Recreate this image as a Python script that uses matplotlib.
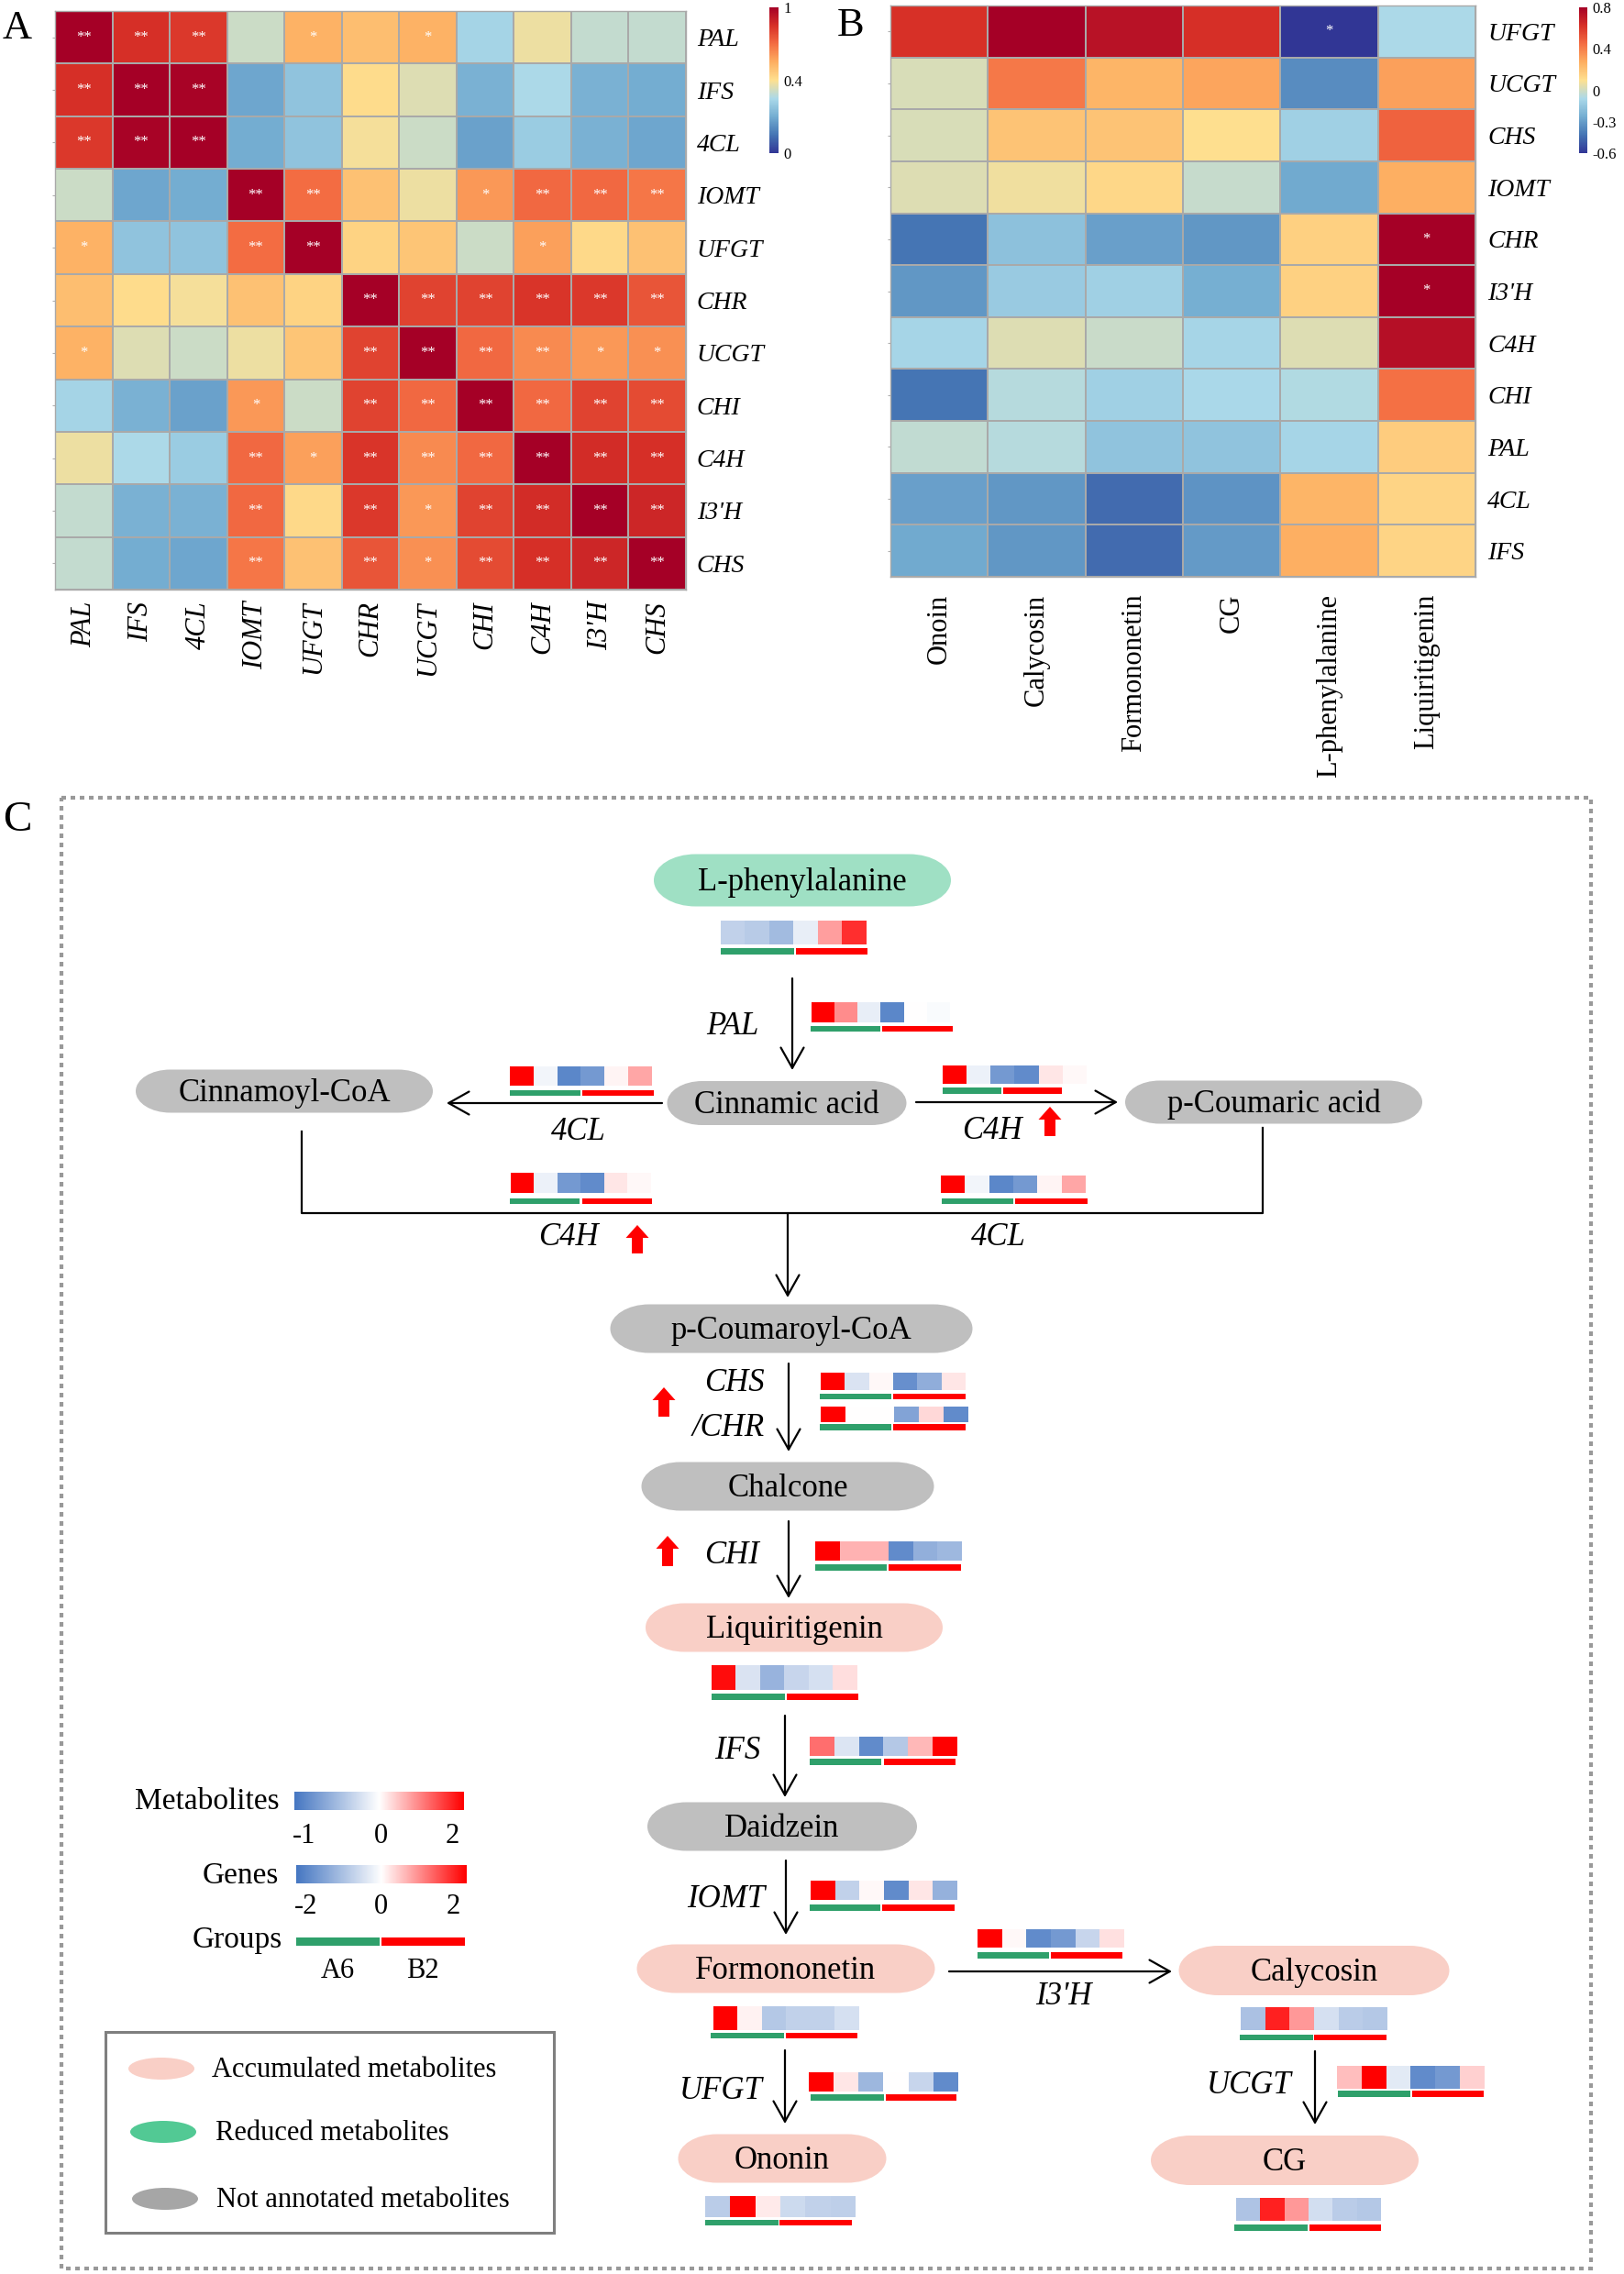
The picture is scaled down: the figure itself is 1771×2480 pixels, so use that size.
import numpy as np
import matplotlib
matplotlib.use("Agg")
import matplotlib.pyplot as plt
from matplotlib.colors import LinearSegmentedColormap, TwoSlopeNorm, Normalize
from matplotlib.patches import PathPatch, Ellipse, Rectangle, FancyArrow
from matplotlib.path import Path

plt.rcParams['font.family'] = ['Liberation Serif', 'DejaVu Serif']

# ---------------- data: panel A (gene-gene correlation) ----------------
genes_A = ["PAL", "IFS", "4CL", "IOMT", "UFGT", "CHR", "UCGT", "CHI", "C4H", "I3'H", "CHS"]
corr_A = [
    [1.00, 0.85, 0.83, 0.34, 0.54, 0.50, 0.54, 0.29, 0.38, 0.33, 0.33],
    [0.85, 1.00, 0.99, 0.19, 0.25, 0.41, 0.36, 0.21, 0.30, 0.21, 0.20],
    [0.83, 0.99, 1.00, 0.20, 0.25, 0.39, 0.34, 0.18, 0.27, 0.21, 0.19],
    [0.34, 0.19, 0.20, 1.00, 0.70, 0.49, 0.38, 0.60, 0.71, 0.71, 0.68],
    [0.54, 0.25, 0.25, 0.70, 1.00, 0.44, 0.48, 0.34, 0.58, 0.42, 0.49],
    [0.50, 0.41, 0.39, 0.49, 0.44, 1.00, 0.80, 0.80, 0.84, 0.83, 0.76],
    [0.54, 0.36, 0.34, 0.38, 0.48, 0.80, 1.00, 0.71, 0.63, 0.60, 0.62],
    [0.29, 0.21, 0.18, 0.60, 0.34, 0.80, 0.71, 1.00, 0.71, 0.80, 0.78],
    [0.38, 0.30, 0.27, 0.71, 0.58, 0.84, 0.63, 0.71, 1.00, 0.86, 0.85],
    [0.33, 0.21, 0.21, 0.71, 0.42, 0.83, 0.60, 0.80, 0.86, 1.00, 0.88],
    [0.33, 0.20, 0.19, 0.68, 0.49, 0.76, 0.62, 0.78, 0.85, 0.88, 1.00],
]
sig_A = [
    ["**", "**", "**", "", "*", "", "*", "", "", "", ""],
    ["**", "**", "**", "", "", "", "", "", "", "", ""],
    ["**", "**", "**", "", "", "", "", "", "", "", ""],
    ["", "", "", "**", "**", "", "", "*", "**", "**", "**"],
    ["*", "", "", "**", "**", "", "", "", "*", "", ""],
    ["", "", "", "", "", "**", "**", "**", "**", "**", "**"],
    ["*", "", "", "", "", "**", "**", "**", "**", "*", "*"],
    ["", "", "", "*", "", "**", "**", "**", "**", "**", "**"],
    ["", "", "", "**", "*", "**", "**", "**", "**", "**", "**"],
    ["", "", "", "**", "", "**", "*", "**", "**", "**", "**"],
    ["", "", "", "**", "", "**", "*", "**", "**", "**", "**"],
]
cbar_A_ticks = [0, 0.4, 1]

# ---------------- data: panel B (gene-metabolite correlation) ----------------
genes_B = ["UFGT", "UCGT", "CHS", "IOMT", "CHR", "I3'H", "C4H", "CHI", "PAL", "4CL", "IFS"]
metabolites_B = ["Onoin", "Calycosin", "Formononetin", "CG", "L-phenylalanine", "Liquiritigenin"]
corr_B = [
    [0.62, 0.80, 0.73, 0.63, -0.60, -0.075],
    [0.02, 0.42, 0.25, 0.30, -0.35, 0.31],
    [0.02, 0.20, 0.20, 0.10, -0.11, 0.48],
    [0.03, 0.07, 0.13, -0.02, -0.26, 0.27],
    [-0.42, -0.17, -0.29, -0.32, 0.16, 0.80],
    [-0.32, -0.13, -0.11, -0.24, 0.15, 0.80],
    [-0.09, 0.03, -0.01, -0.09, 0.03, 0.74],
    [-0.42, -0.05, -0.11, -0.08, -0.06, 0.44],
    [-0.03, -0.05, -0.16, -0.16, -0.09, 0.17],
    [-0.29, -0.32, -0.45, -0.33, 0.25, 0.14],
    [-0.26, -0.32, -0.45, -0.31, 0.27, 0.14],
]
sig_B = [
    ["", "", "", "", "*", ""],
    ["", "", "", "", "", ""],
    ["", "", "", "", "", ""],
    ["", "", "", "", "", ""],
    ["", "", "", "", "", "*"],
    ["", "", "", "", "", "*"],
    ["", "", "", "", "", ""],
    ["", "", "", "", "", ""],
    ["", "", "", "", "", ""],
    ["", "", "", "", "", ""],
    ["", "", "", "", "", ""],
]
cbar_B_ticks = [-0.6, -0.3, 0, 0.4, 0.8]

# ---------------- data: panel C mini heatmaps (A6 x3, B2 x3) ----------------
# metabolites (scale -1..2)
lphe_met = [-0.33, -0.38, -0.50, -0.12, 0.76, 1.64]
liq_met = [1.90, -0.20, -0.55, -0.30, -0.22, 0.26]
formo_met = [2.00, 0.10, -0.40, -0.33, -0.33, -0.22]
ononin_met = [-0.37, 2.00, 0.16, -0.27, -0.33, -0.35]
calycosin_met = [-0.45, 1.74, 0.80, -0.22, -0.37, -0.40]
cg_met = [-0.43, 1.74, 0.80, -0.24, -0.37, -0.40]
# genes (scale -2..2)
pal_gene = [2.00, 0.90, -0.24, -1.76, 0.00, -0.06]
cl4_gene = [2.00, -0.14, -1.76, -1.50, 0.08, 0.70]
c4h_gene = [2.00, -0.20, -1.50, -1.70, 0.20, 0.06]
chs_gene = [2.00, -0.40, 0.06, -1.64, -1.20, 0.20]
chr_gene = [2.00, 0.00, 0.00, -1.34, 0.30, -1.70]
chi_gene = [2.00, 0.60, 0.60, -1.70, -1.16, -1.04]
ifs_gene = [1.14, -0.36, -1.70, -0.80, 0.56, 2.00]
iomt_gene = [2.00, -0.66, 0.06, -1.70, 0.20, -1.14]
i3h_gene = [2.00, 0.06, -1.70, -1.50, -0.60, 0.24]
ufgt_gene = [2.00, 0.20, -1.06, 0.00, -0.60, -1.70]
ucgt_gene = [0.50, 2.00, -0.30, -1.70, -1.50, 0.36]

met_range = (-1, 0, 2)
gene_range = (-2, 0, 2)

# ---------------- figure ----------------
W, H = 1771, 2480
fig = plt.figure(figsize=(W / 100, H / 100), dpi=100)


def fax(x0, y0, x1, y1):
    return [x0 / W, 1 - y1 / H, (x1 - x0) / W, (y1 - y0) / H]


heat_cmap = LinearSegmentedColormap.from_list(
    "rdylbu_m", ["#313695", "#4575b4", "#74add1", "#abd9e9", "#fee090",
                 "#fdae61", "#f46d43", "#d73027", "#a50026"])
strip_cmap = LinearSegmentedColormap.from_list("bwr_m", ["#4677c2", "#ffffff", "#ff0000"])
GREEN = "#2fa06b"
RED = "#ff0000"
GRID = "#a9a9a9"

# overlay axes in pixel coordinates for panel C
axc = fig.add_axes([0, 0, 1, 1])
axc.set_axis_off()


def heatmap(ax, data, norm, rows, cols, sig, col_italic, col_size, row_size, col_pad, row_pad):
    arr = np.array(data)
    m = ax.pcolormesh(arr, cmap=heat_cmap, norm=norm, edgecolors=GRID, linewidth=1.2)
    nr, nc = arr.shape
    ax.set_xlim(0, nc)
    ax.set_ylim(nr, 0)
    ax.set_xticks(np.arange(nc) + 0.5)
    ax.set_xticklabels(cols, rotation=90, fontsize=col_size,
                       fontstyle="italic" if col_italic else "normal")
    ax.set_yticks(np.arange(nr) + 0.5)
    ax.set_yticklabels(rows, fontsize=row_size, fontstyle="italic")
    ax.tick_params(axis="x", length=0, pad=col_pad)
    ax.tick_params(axis="y", left=True, right=False, labelleft=False, labelright=True,
                   length=2.5, width=0.8, color="#b0b0b0", pad=row_pad)
    for s in ax.spines.values():
        s.set_color(GRID)
        s.set_linewidth(1)
    for i in range(nr):
        for j in range(nc):
            if sig[i][j]:
                ax.text(j + 0.5, i + 0.5, sig[i][j], color="white", fontsize=12,
                        ha="center", va="center")
    return m


# ---- panel A ----
axA = fig.add_axes(fax(60, 12, 748, 643))
mA = heatmap(axA, corr_A, TwoSlopeNorm(vmin=0, vcenter=0.4, vmax=1), genes_A, genes_A,
             sig_A, True, 22, 20, 9, 6)
caxA = fig.add_axes(fax(839, 8, 849, 167))
cbA = fig.colorbar(mA, cax=caxA)
cbA.set_ticks(cbar_A_ticks)
cbA.set_ticklabels([f"{t:g}" for t in cbar_A_ticks])
cbA.outline.set_visible(False)
caxA.tick_params(length=0, labelsize=12, pad=4)

# ---- panel B ----
axB = fig.add_axes(fax(971, 6, 1609, 629))
mB = heatmap(axB, corr_B, Normalize(vmin=-0.6, vmax=0.8), genes_B, metabolites_B,
             sig_B, False, 22, 20, 13.5, 7)
caxB = fig.add_axes(fax(1722, 8, 1731, 167))
cbB = fig.colorbar(mB, cax=caxB)
cbB.set_ticks(cbar_B_ticks)
cbB.set_ticklabels([f"{t:g}" for t in cbar_B_ticks])
cbB.outline.set_visible(False)
caxB.tick_params(length=0, labelsize=12, pad=4)


# ---------------- panel C ----------------
def ptext(x, y, s, size, italic=False, ha="center", color="k"):
    px = size * 100 / 72
    axc.text(x, y + 0.33 * px, s, fontsize=size, ha=ha, va="baseline", color=color,
             fontstyle="italic" if italic else "normal", zorder=5)


def pill(cx, cy, w, h, color):
    ry = h / 2
    rx = min(1.6 * ry, w / 2)
    k = 0.5523
    x0, x1, y0, y1 = cx - w / 2, cx + w / 2, cy - h / 2, cy + h / 2
    verts = [
        (x0 + rx, y0), (x1 - rx, y0),
        (x1 - rx + k * rx, y0), (x1, cy - k * ry), (x1, cy),
        (x1, cy + k * ry), (x1 - rx + k * rx, y1), (x1 - rx, y1),
        (x0 + rx, y1),
        (x0 + rx - k * rx, y1), (x0, cy + k * ry), (x0, cy),
        (x0, cy - k * ry), (x0 + rx - k * rx, y0), (x0 + rx, y0),
        (x0 + rx, y0),
    ]
    codes = [Path.MOVETO, Path.LINETO,
             Path.CURVE4, Path.CURVE4, Path.CURVE4,
             Path.CURVE4, Path.CURVE4, Path.CURVE4,
             Path.LINETO,
             Path.CURVE4, Path.CURVE4, Path.CURVE4,
             Path.CURVE4, Path.CURVE4, Path.CURVE4,
             Path.CLOSEPOLY]
    axc.add_patch(PathPatch(Path(verts, codes), facecolor=color, edgecolor="none", zorder=2))


# panel letters
ptext(19, 27, "A", 32)
ptext(928, 24, "B", 32)
ptext(19, 890, "C", 34)

# dotted frame
axc.add_patch(Rectangle((67, 870), 1735 - 67, 2474 - 870, fill=False, edgecolor="#999999",
                        lw=3, linestyle=(0, (1.2, 1.2)), zorder=1))

MINT = "#9fe0c4"
PINK = "#f9cfc6"
GRAY = "#bfbfbf"
nodes = [
    ("L-phenylalanine", 875, 960, 324, 57, MINT),
    ("Cinnamic acid", 858, 1203, 261, 48, GRAY),
    ("Cinnamoyl-CoA", 310, 1190, 324, 47, GRAY),
    ("p-Coumaric acid", 1389, 1202, 324, 47, GRAY),
    ("p-Coumaroyl-CoA", 863, 1449, 395, 53, GRAY),
    ("Chalcone", 859, 1621, 319, 53, GRAY),
    ("Liquiritigenin", 866, 1775, 324, 53, PINK),
    ("Daidzein", 853, 1992, 294, 53, GRAY),
    ("Formononetin", 857, 2147, 325, 53, PINK),
    ("Calycosin", 1433, 2149, 295, 54, PINK),
    ("Ononin", 853, 2354, 227, 53, PINK),
    ("CG", 1401, 2356, 292, 54, PINK),
]
for name, cx, cy, w, h, col in nodes:
    pill(cx, cy, w, h, col)
    ptext(cx, cy, name, 25)


def arrow(x0, y0, x1, y1):
    axc.annotate("", xy=(x1, y1), xytext=(x0, y0),
                 arrowprops=dict(arrowstyle="->,head_length=1.6,head_width=0.9", lw=1.6,
                                 color="k", shrinkA=0, shrinkB=0, mutation_scale=10),
                 zorder=3)


arrow(864, 1067, 864, 1167)      # PAL
arrow(722, 1203, 487, 1203)      # 4CL
arrow(999, 1202, 1219, 1202)     # C4H
axc.plot([329, 329, 1377, 1377], [1234, 1323, 1323, 1230], color="k", lw=1.6, zorder=3)
arrow(859, 1323, 859, 1415)
arrow(860, 1487, 860, 1583)      # CHS/CHR
arrow(860, 1659, 860, 1743)      # CHI
arrow(856, 1871, 856, 1960)      # IFS
arrow(857, 2029, 857, 2110)      # IOMT
arrow(1035, 2150, 1278, 2150)    # I3'H
arrow(856, 2236, 856, 2316)      # UFGT
arrow(1434, 2237, 1434, 2317)    # UCGT

# gene labels
ptext(799, 1117, "PAL", 25, True)
ptext(631, 1232, "4CL", 25, True)
ptext(1082, 1231, "C4H", 25, True)
ptext(620, 1347, "C4H", 25, True)
ptext(1089, 1347, "4CL", 25, True)
ptext(834, 1506, "CHS", 25, True, ha="right")
ptext(834, 1555, "/CHR", 25, True, ha="right")
ptext(798, 1694, "CHI", 25, True)
ptext(804, 1907, "IFS", 25, True)
ptext(834, 2069, "IOMT", 25, True, ha="right")
ptext(832, 2278, "UFGT", 25, True, ha="right")
ptext(1160, 2175, "I3'H", 25, True)
ptext(1362, 2272, "UCGT", 25, True)

# red up-regulation arrows
for x, yb, yt in [(1145, 1239, 1207), (695, 1367, 1336), (724, 1545, 1513), (728, 1708, 1675)]:
    axc.add_patch(FancyArrow(x, yb, 0, yt - yb, width=12, head_width=25, head_length=14,
                             length_includes_head=True, color=RED, lw=0, zorder=3))

met_norm = TwoSlopeNorm(vmin=met_range[0], vcenter=met_range[1], vmax=met_range[2])
gene_norm = Normalize(vmin=gene_range[0], vmax=gene_range[2])

strips = [
    # values, norm, strip box (x0,x1,y0,y1), group bars (gx0,gx1,rx0,rx1,by0,by1)
    (lphe_met, met_norm, (786, 945, 1004, 1030), (786, 866, 868, 946, 1034, 1041)),
    (pal_gene, gene_norm, (885, 1036, 1093, 1115), (884, 960, 962, 1039, 1119, 1125)),
    (cl4_gene, gene_norm, (556, 711, 1163, 1184), (556, 633, 635, 713, 1189, 1195)),
    (c4h_gene, gene_norm, (1028, 1185, 1162, 1182), (1028, 1092, 1094, 1158, 1186, 1193)),
    (c4h_gene, gene_norm, (557, 710, 1279, 1301), (556, 632, 635, 711, 1307, 1313)),
    (cl4_gene, gene_norm, (1026, 1184, 1282, 1301), (1027, 1105, 1107, 1186, 1307, 1313)),
    (chs_gene, gene_norm, (895, 1053, 1497, 1516), (894, 972, 974, 1053, 1520, 1526)),
    (chr_gene, gene_norm, (895, 1056, 1534, 1551), (894, 972, 974, 1053, 1553, 1560)),
    (chi_gene, gene_norm, (889, 1049, 1681, 1702), (889, 967, 969, 1048, 1706, 1713)),
    (liq_met, met_norm, (776, 935, 1816, 1843), (776, 856, 858, 936, 1847, 1854)),
    (ifs_gene, gene_norm, (883, 1044, 1894, 1915), (883, 961, 964, 1042, 1918, 1925)),
    (iomt_gene, gene_norm, (884, 1044, 2051, 2072), (883, 960, 962, 1041, 2077, 2084)),
    (i3h_gene, gene_norm, (1066, 1226, 2104, 2124), (1066, 1144, 1146, 1224, 2129, 2136)),
    (formo_met, met_norm, (778, 937, 2188, 2214), (775, 855, 857, 935, 2217, 2223)),
    (ufgt_gene, gene_norm, (882, 1045, 2260, 2281), (884, 964, 966, 1043, 2284, 2291)),
    (ononin_met, met_norm, (769, 933, 2395, 2418), (769, 849, 850, 929, 2421, 2427)),
    (calycosin_met, met_norm, (1353, 1513, 2189, 2214), (1352, 1432, 1433, 1512, 2219, 2225)),
    (ucgt_gene, gene_norm, (1458, 1619, 2253, 2278), (1459, 1538, 1540, 1618, 2280, 2287)),
    (cg_met, met_norm, (1348, 1506, 2397, 2422), (1346, 1426, 1428, 1506, 2426, 2433)),
]
for vals, nrm, (x0, x1, y0, y1), (g0, g1, r0, r1, b0, b1) in strips:
    axc.imshow(np.array(vals)[None, :], extent=(x0, x1, y1, y0), cmap=strip_cmap, norm=nrm,
               aspect="auto", interpolation="nearest", zorder=3)
    axc.add_patch(Rectangle((g0, b0), g1 - g0, b1 - b0, facecolor=GREEN, edgecolor="none", zorder=3))
    axc.add_patch(Rectangle((r0, b0), r1 - r0, b1 - b0, facecolor=RED, edgecolor="none", zorder=3))

# ---- legend: scales ----
met_grad = np.concatenate([np.linspace(met_range[0], met_range[1], 200),
                           np.linspace(met_range[1], met_range[2], 200)])
gene_grad = np.linspace(gene_range[0], gene_range[2], 400)
axc.imshow(met_grad[None, :], extent=(321, 506, 1974, 1954), cmap=strip_cmap, norm=met_norm,
           aspect="auto", interpolation="bilinear", zorder=3)
axc.imshow(gene_grad[None, :], extent=(323, 509, 2054, 2034), cmap=strip_cmap, norm=gene_norm,
           aspect="auto", interpolation="bilinear", zorder=3)
ptext(305, 1962, "Metabolites", 24, ha="right")
ptext(304, 2043, "Genes", 24, ha="right")
ptext(308, 2113, "Groups", 24, ha="right")
for x, s in zip([332, 415, 493], [met_range[0], met_range[1], met_range[2]]):
    ptext(x, 2000, f"{s:g}", 22)
for x, s in zip([334, 415, 494], [gene_range[0], gene_range[1], gene_range[2]]):
    ptext(x, 2077, f"{s:g}", 22)
axc.add_patch(Rectangle((323, 2113), 91, 9, facecolor=GREEN, edgecolor="none", zorder=3))
axc.add_patch(Rectangle((416, 2113), 91, 9, facecolor=RED, edgecolor="none", zorder=3))
ptext(368, 2147, "A6", 22)
ptext(461, 2147, "B2", 22)

# ---- legend box ----
axc.add_patch(Rectangle((115, 2216), 489, 219, fill=False, edgecolor="#7f7f7f", lw=2.2, zorder=3))
for (cx, cy), col, txt, tx in [((176, 2256), PINK, "Accumulated metabolites", 231),
                               ((178, 2325), "#52c994", "Reduced metabolites", 235),
                               ((180, 2398), "#a6a6a6", "Not annotated metabolites", 236)]:
    axc.add_patch(Ellipse((cx, cy), 72, 24, facecolor=col, edgecolor="none", zorder=3))
    ptext(tx, cy - 1, txt, 22, ha="left")

axc.set_xlim(0, W)
axc.set_ylim(H, 0)

fig.savefig("out.png", dpi=100, facecolor="white")
